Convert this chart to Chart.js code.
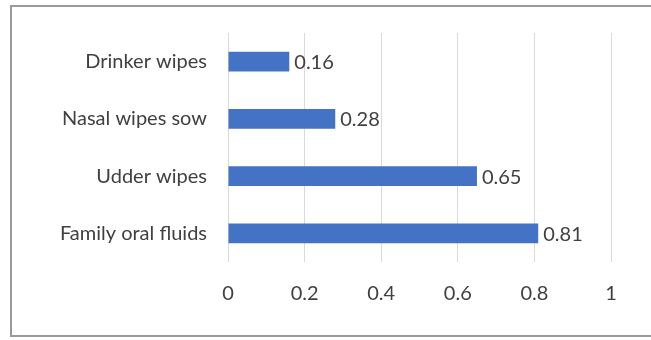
<!DOCTYPE html>
<html>
<head>
<meta charset="utf-8">
<script src="https://cdn.jsdelivr.net/npm/chart.js@4/dist/chart.umd.min.js"></script>
<style>
  html, body { margin: 0; padding: 0; background: #ffffff; }
  #wrap { position: relative; width: 651px; height: 340px; }
</style>
</head>
<body>
<div id="wrap"><canvas id="chart" width="651" height="340"></canvas></div>
<script>
// Sample types and their proportions
const categories = ["Drinker wipes", "Nasal wipes sow", "Udder wipes", "Family oral fluids"];
const proportions = [0.16, 0.28, 0.65, 0.81];
const xTicks = [0, 0.2, 0.4, 0.6, 0.8, 1];

const FONT = "Lato, 'Open Sans', sans-serif";
const TEXT = "#404040";

// Outer frame of the chart area
const framePlugin = {
  id: "frame",
  beforeDraw(chart) {
    const ctx = chart.ctx;
    ctx.save();
    ctx.fillStyle = "#ffffff";
    ctx.fillRect(0, 0, chart.width, chart.height);
    ctx.strokeStyle = "#9a9a9a";
    ctx.lineWidth = 2;
    ctx.strokeRect(11, 6, 700, 330);
    ctx.restore();
  }
};

// Value labels at the end of each bar
const valueLabels = {
  id: "valueLabels",
  afterDatasetsDraw(chart) {
    const ctx = chart.ctx;
    const meta = chart.getDatasetMeta(0);
    ctx.save();
    ctx.font = "20px " + FONT;
    ctx.fillStyle = TEXT;
    ctx.textAlign = "left";
    ctx.textBaseline = "middle";
    meta.data.forEach((bar, i) => {
      ctx.fillText(proportions[i].toFixed(2), bar.x + 5, bar.y + 1);
    });
    ctx.restore();
  }
};

new Chart(document.getElementById("chart"), {
  type: "bar",
  data: {
    labels: categories,
    datasets: [{
      data: proportions,
      backgroundColor: "#4472C4",
      borderWidth: 0,
      categoryPercentage: 1,
      barPercentage: 0.345
    }]
  },
  options: {
    indexAxis: "y",
    responsive: false,
    animation: false,
    layout: { padding: { left: 0, right: 40, top: 30, bottom: 0 } },
    plugins: {
      legend: { display: false },
      tooltip: { enabled: false }
    },
    scales: {
      x: {
        min: 0,
        max: 1,
        afterBuildTicks(scale) {
          scale.ticks = xTicks.map(v => ({ value: v }));
        },
        afterFit(scale) { scale.height = 78; },
        grid: { color: "#d9d9d9", lineWidth: 1, drawTicks: false },
        border: { display: false },
        ticks: {
          padding: 20,
          color: TEXT,
          font: { family: FONT, size: 20 },
          callback: v => String(v)
        }
      },
      y: {
        afterFit(scale) { scale.width = 228; },
        grid: { display: false, drawTicks: false },
        border: { display: false },
        ticks: {
          padding: 21,
          color: TEXT,
          font: { family: FONT, size: 20 }
        }
      }
    }
  },
  plugins: [framePlugin, valueLabels]
});
</script>
</body>
</html>
